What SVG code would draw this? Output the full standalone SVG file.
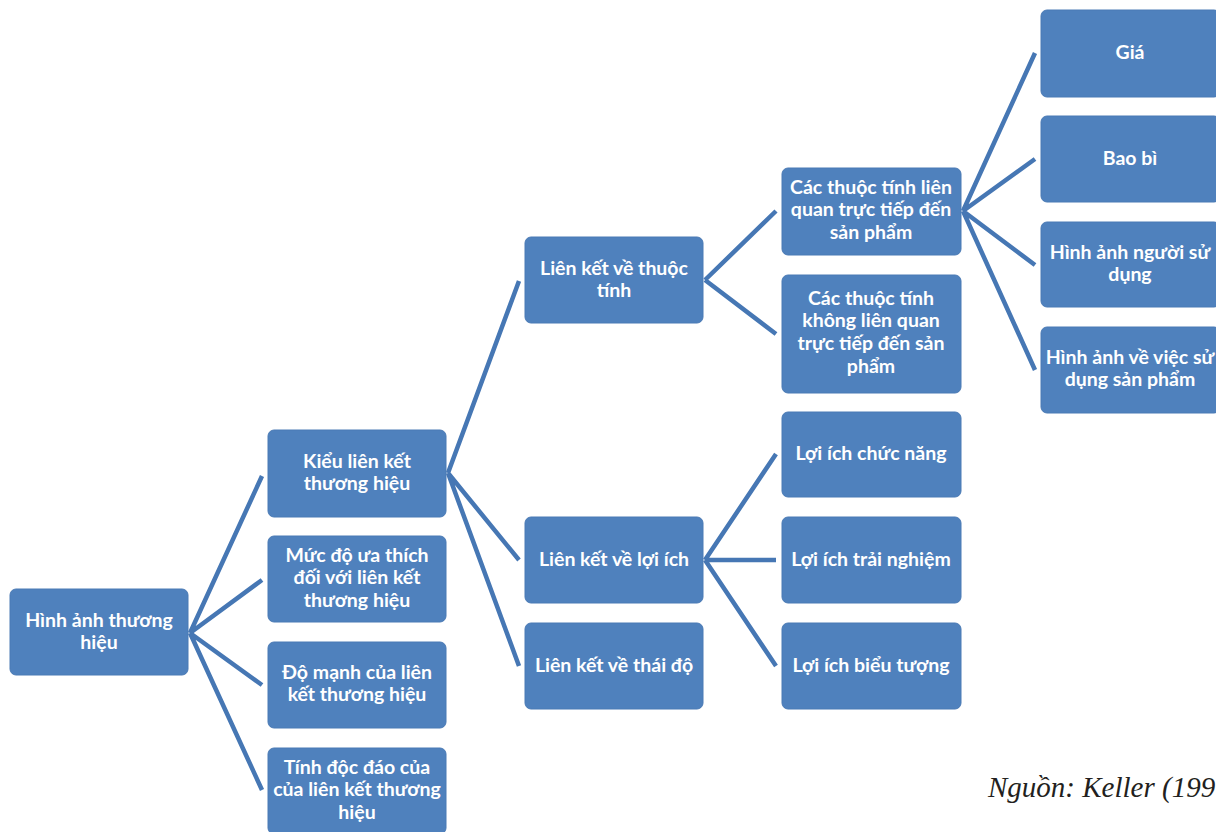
<svg xmlns="http://www.w3.org/2000/svg" width="1216" height="832" viewBox="0 0 1216 832">
<style>
.box{fill:#4F81BD;stroke:#4A7AB5;stroke-width:1}
.t{font-family:Lato,"Open Sans",sans-serif;font-weight:bold;font-size:19.5px;fill:#FFFFFF;text-anchor:middle}
.c{stroke:#4677B4;stroke-width:4.5;fill:none;stroke-linecap:butt}
.src{font-family:"Liberation Serif",serif;font-style:italic;font-size:29px;fill:#231F20}
</style>
<rect width="1216" height="832" fill="#FFFFFF"/>
<g id="connectors">
<path class="c" d="M190 633 L262 476 M190 633 L262 580 M190 633 L262 685 M190 633 L262 790"/>
<path class="c" d="M448 473 L519 281 M448 473 L519 560 M448 473 L519 666"/>
<path class="c" d="M705 280 L776 211 M705 280 L776 334"/>
<path class="c" d="M705 560 L776 454 M705 560 L776 560 M705 560 L776 666"/>
<path class="c" d="M963 211 L1035 53 M963 211 L1035 159 M963 211 L1035 265 M963 211 L1035 370"/>
</g>
<g id="n-root"><rect class="box" x="10" y="589" width="178" height="86" rx="6"/><text class="t" x="99" y="627">Hình ảnh thương</text><text class="t" x="99" y="649">hiệu</text></g>
<g id="n-kieu"><rect class="box" x="268" y="430" width="178" height="87" rx="6"/><text class="t" x="357" y="468">Kiểu liên kết</text><text class="t" x="357" y="490">thương hiệu</text></g>
<g id="n-muc"><rect class="box" x="268" y="536" width="178" height="86" rx="6"/><text class="t" x="357" y="562">Mức độ ưa thích</text><text class="t" x="357" y="584">đối với liên kết</text><text class="t" x="357" y="607">thương hiệu</text></g>
<g id="n-do"><rect class="box" x="268" y="642" width="178" height="86" rx="6"/><text class="t" x="357" y="679">Độ mạnh của liên</text><text class="t" x="357" y="701">kết thương hiệu</text></g>
<g id="n-tinh"><rect class="box" x="268" y="748" width="178" height="86" rx="6"/><text class="t" x="357" y="774">Tính độc đáo của</text><text class="t" x="357" y="796">của liên kết thương</text><text class="t" x="357" y="819">hiệu</text></g>
<g id="n-thuoctinh"><rect class="box" x="525" y="237" width="178" height="86" rx="6"/><text class="t" x="614" y="275">Liên kết về thuộc</text><text class="t" x="614" y="297">tính</text></g>
<g id="n-loiich"><rect class="box" x="525" y="517" width="178" height="86" rx="6"/><text class="t" x="614" y="566">Liên kết về lợi ích</text></g>
<g id="n-thaido"><rect class="box" x="525" y="623" width="178" height="86" rx="6"/><text class="t" x="614" y="672">Liên kết về thái độ</text></g>
<g id="n-lienquan"><rect class="box" x="782" y="168" width="179" height="87" rx="6"/><text class="t" x="871" y="194">Các thuộc tính liên</text><text class="t" x="871" y="216">quan trực tiếp đến</text><text class="t" x="871" y="239">sản phẩm</text></g>
<g id="n-khong"><rect class="box" x="782" y="275" width="179" height="118" rx="6"/><text class="t" x="871" y="305">Các thuộc tính</text><text class="t" x="871" y="327">không liên quan</text><text class="t" x="871" y="350">trực tiếp đến sản</text><text class="t" x="871" y="373">phẩm</text></g>
<g id="n-chucnang"><rect class="box" x="782" y="412" width="179" height="85" rx="6"/><text class="t" x="871" y="460">Lợi ích chức năng</text></g>
<g id="n-trainghiem"><rect class="box" x="782" y="517" width="179" height="86" rx="6"/><text class="t" x="871" y="566">Lợi ích trải nghiệm</text></g>
<g id="n-bieutuong"><rect class="box" x="782" y="623" width="179" height="86" rx="6"/><text class="t" x="871" y="672">Lợi ích biểu tượng</text></g>
<g id="n-gia"><rect class="box" x="1041" y="10" width="179" height="87" rx="6"/><text class="t" x="1130" y="59">Giá</text></g>
<g id="n-baobi"><rect class="box" x="1041" y="116" width="179" height="86" rx="6"/><text class="t" x="1130" y="165">Bao bì</text></g>
<g id="n-nguoi"><rect class="box" x="1041" y="222" width="179" height="85" rx="6"/><text class="t" x="1130" y="259">Hình ảnh người sử</text><text class="t" x="1130" y="281">dụng</text></g>
<g id="n-viec"><rect class="box" x="1041" y="327" width="179" height="86" rx="6"/><text class="t" x="1130" y="364">Hình ảnh về việc sử</text><text class="t" x="1130" y="386">dụng sản phẩm</text></g>
<text class="src" x="988" y="797">Nguồn: Keller (199</text>
</svg>
